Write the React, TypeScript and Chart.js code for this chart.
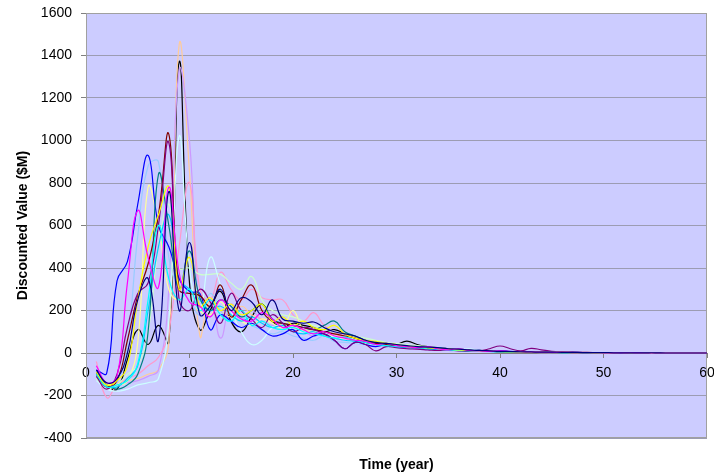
import React, { useEffect, useRef } from "react";
import { Chart, registerables } from "chart.js";

Chart.register(...registerables);

// Time (year) of each data point
const years = [
  1, 2, 3, 4, 5, 6, 7, 8, 9, 10,
  11, 12, 13, 14, 15, 16, 17, 18, 19, 20,
  21, 22, 23, 24, 25, 26, 27, 28, 29, 30,
  31, 32, 33, 34, 35, 36, 37, 38, 39, 40,
  41, 42, 43, 44, 45, 46, 47, 48, 49, 50,
  51, 52, 53, 54, 55, 56, 57, 58, 59, 60,
];

// Axis ranges / tick steps
const xMin = 0;
const xMax = 60;
const xStep = 10;
const yMin = -400;
const yMax = 1600;
const yStep = 200;

const xTitle = "Time (year)";
const yTitle = "Discounted Value ($M)";

const seriesColors = [
  "#000080", "#FF00FF", "#FFFF00", "#00FFFF", "#800080", "#800000",
  "#008080", "#0000FF", "#00CCFF", "#CCFFFF", "#CCFFCC", "#FFFF99",
  "#99CCFF", "#FF99CC", "#CC99FF", "#FFCC99", "#000000",
];

const navy = [
  -80, -140, -120, 0, 250, 350, 60, 760, 200, 520,
  180, 220, 300, 200, 260, 240, 180, 250, 160, 150,
  140, 146, 120, 100, 90, 80, 60, 50, 45, 40,
  35, 30, 28, 25, 20, 18, 15, 12, 10, 8,
  7, 6, 5, 4, 4, 3, 3, 2, 2, 2,
  1, 1, 1, 1, 1, 0, 0, 0, 0, 0,
];
const magenta = [
  -60, -140, -110, 330, 670, 450, 310, 780, 380, 240,
  220, 170, 250, 200, 160, 150, 190, 160, 120, 130,
  110, 90, 100, 80, 70, 60, 55, 40, 45, 35,
  30, 25, 30, 20, 15, 20, 12, 10, 8, 10,
  7, 6, 5, 4, 3, 3, 2, 2, 2, 1,
  1, 1, 1, 0, 0, 0, 0, 0, 0, 0,
];
const yellow = [
  -90, -150, -130, -60, 250, 500, 650, 780, 300, 450,
  220, 260, 200, 230, 180, 200, 230, 150, 170, 130,
  150, 120, 110, 130, 90, 70, 60, 55, 45, 40,
  30, 28, 25, 20, 18, 15, 12, 10, 8, 7,
  6, 5, 4, 4, 3, 3, 2, 2, 1, 1,
  1, 1, 0, 0, 0, 0, 0, 0, 0, 0,
];
const cyan = [
  -100, -160, -150, -130, -50, 250, 600, 350, 250, 300,
  200, 250, 180, 150, 200, 130, 150, 120, 110, 120,
  100, 90, 80, 70, 75, 60, 50, 40, 35, 30,
  28, 25, 20, 18, 15, 12, 10, 8, 7, 6,
  5, 4, 4, 3, 3, 2, 2, 1, 1, 1,
  1, 0, 0, 0, 0, 0, 0, 0, 0, 0,
];
const purple = [
  -110, -170, -100, 120, 280, 330, 600, 990, 250, 200,
  300, 240, 140, 280, 200, 160, 120, 180, 140, 100,
  120, 110, 90, 60, 20, 50, 40, 10, 30, 25,
  20, 18, 15, 12, 15, 10, 8, 10, 20, 33,
  20, 10, 22, 15, 8, 5, 4, 3, 2, 2,
  1, 1, 1, 1, 0, 0, 0, 0, 0, 0,
];
const maroon = [
  -100, -160, -130, 60, 270, 420, 650, 1030, 300, 280,
  270, 220, 320, 170, 250, 320, 200, 150, 140, 130,
  120, 110, 100, 90, 80, 70, 50, 45, 40, 35,
  30, 25, 22, 20, 18, 15, 12, 10, 8, 6,
  5, 4, 3, 3, 2, 2, 1, 1, 1, 1,
  0, 0, 0, 0, 0, 0, 0, 0, 0, 0,
];
const teal = [
  -90, -150, -170, -150, -100, 100, 840, 600, 300, 480,
  260, 200, 250, 220, 170, 200, 230, 160, 140, 130,
  120, 110, 130, 150, 100, 80, 60, 50, 45, 35,
  30, 28, 25, 20, 18, 15, 12, 10, 8, 6,
  5, 4, 4, 3, 3, 2, 2, 1, 1, 1,
  1, 0, 0, 0, 0, 0, 0, 0, 0, 0,
];
const blue = [
  -80, -95, 340, 430, 700, 930, 600, 500, 350, 290,
  280, 110, 180, 150, 120, 140, 110, 80, 90, 110,
  60, 80, 90, 60, 20, 50, 40, 30, 40, 30,
  25, 30, 20, 15, 20, 15, 10, 12, 8, 10,
  8, 6, 5, 5, 4, 3, 3, 2, 2, 2,
  1, 1, 1, 1, 0, 0, 0, 0, 0, 0,
];
const sky = [
  -110, -150, -160, -120, -60, 200, 500, 650, 350, 300,
  250, 200, 220, 180, 150, 170, 140, 120, 130, 100,
  90, 100, 80, 70, 60, 55, 50, 40, 35, 30,
  25, 22, 20, 25, 15, 12, 10, 8, 7, 6,
  5, 4, 3, 3, 2, 2, 1, 1, 1, 1,
  0, 0, 0, 0, 0, 0, 0, 0, 0, 0,
];
const turquoise = [
  -130, -170, -180, -170, -150, -140, -120, 150, 1020, 400,
  200, 450, 320, 200, 100, 40, 60, 120, 130, 110,
  100, 90, 80, 75, 60, 50, 45, 40, 35, 30,
  28, 25, 22, 20, 18, 15, 20, 12, 10, 8,
  6, 5, 4, 4, 3, 3, 2, 2, 1, 1,
  1, 1, 0, 0, 0, 0, 0, 0, 0, 0,
];
const lightGreen = [
  -120, -170, -150, -100, -60, 100, 500, 700, 400, 400,
  370, 370, 370, 330, 300, 360, 250, 200, 180, 170,
  150, 130, 120, 100, 90, 80, 70, 60, 50, 45,
  40, 35, 30, 25, 20, 18, 15, 12, 10, 8,
  7, 6, 5, 4, 3, 3, 2, 2, 1, 1,
  1, 1, 0, 0, 0, 0, 0, 0, 0, 0,
];
const lightYellow = [
  -100, -140, -150, -130, 50, 780, 600, 300, 250, 300,
  200, 180, 240, 170, 150, 130, 160, 140, 120, 200,
  110, 100, 90, 80, 70, 65, 55, 50, 45, 40,
  35, 30, 25, 20, 18, 15, 12, 10, 8, 6,
  5, 4, 3, 3, 2, 2, 1, 1, 1, 1,
  0, 0, 0, 0, 0, 0, 0, 0, 0, 0,
];
const paleBlue = [
  -100, -160, -140, 50, 550, 880, 900, 450, 300, 250,
  180, 280, 200, 150, 170, 130, 110, 90, 100, 80,
  70, 60, 80, 55, 50, 45, 40, 35, 30, 25,
  22, 20, 18, 15, 12, 10, 8, 7, 6, 5,
  4, 4, 3, 3, 2, 2, 1, 1, 1, 1,
  0, 0, 0, 0, 0, 0, 0, 0, 0, 0,
];
const rose = [
  -40, -210, -150, -120, -100, -60, -20, 100, 500, 800,
  300, 250, 380, 300, 250, 300, 260, 250, 250, 180,
  150, 190, 130, 100, 80, 60, 60, 50, 40, 35,
  30, 25, 22, 20, 18, 15, 12, 10, 8, 6,
  5, 4, 3, 3, 2, 2, 1, 1, 1, 1,
  0, 0, 0, 0, 0, 0, 0, 0, 0, 0,
];
const lavender = [
  -110, -170, -150, -140, -130, -110, -80, 300, 1330, 1000,
  200, 250, 70, 230, 160, 200, 150, 130, 120, 110,
  100, 80, 90, 70, 60, 50, 40, 35, 30, 30,
  25, 20, 18, 15, 12, 10, 8, 7, 6, 5,
  4, 3, 3, 2, 2, 1, 1, 1, 1, 0,
  0, 0, 0, 0, 0, 0, 0, 0, 0, 0,
];
const tan = [
  -120, -150, -140, -130, -120, -100, -80, 50, 1450, 850,
  80, 250, 200, 170, 220, 180, 160, 150, 130, 120,
  110, 100, 80, 90, 70, 60, 50, 45, 40, 30,
  25, 20, 20, 15, 15, 12, 10, 10, 8, 8,
  6, 5, 5, 4, 4, 3, 3, 3, 2, 2,
  2, 2, 1, 1, 1, 1, 1, 1, 1, 0,
];
const black = [
  -90, -150, -170, -30, 110, 40, 130, 50, 1370, 330,
  110, 200, 290, 150, 100, 170, 230, 150, 120, 140,
  130, 120, 100, 110, 90, 70, 60, 40, 35, 40,
  56, 40, 30, 25, 20, 18, 15, 12, 10, 8,
  6, 5, 4, 3, 3, 2, 2, 1, 1, 1,
  0, 0, 0, 0, 0, 0, 0, 0, 0, 0,
];

const seriesValues = [
  navy, magenta, yellow, cyan, purple, maroon, teal, blue, sky,
  turquoise, lightGreen, lightYellow, paleBlue, rose, lavender, tan, black,
];

const FONT_FAMILY = '"Liberation Sans", Arial, Helvetica, sans-serif';

export default function App() {
  const ref = useRef<HTMLCanvasElement>(null);

  useEffect(() => {
    const canvas = ref.current;
    if (!canvas) return;

    const decor = {
      id: "decor",
      beforeDraw(chart: any) {
        const { ctx, chartArea: a, width, height } = chart;
        ctx.save();
        ctx.fillStyle = "#ffffff";
        ctx.fillRect(0, 0, width, height);
        ctx.fillStyle = "#CCCCFF";
        ctx.fillRect(a.left, a.top, a.right - a.left, a.bottom - a.top);
        ctx.restore();
      },
      beforeDatasetsDraw(chart: any) {
        const { ctx, chartArea: a } = chart;
        ctx.save();
        ctx.strokeStyle = "#a0a0a0";
        ctx.lineWidth = 1;
        ctx.strokeRect(a.left + 0.5, a.top + 0.5, a.right - a.left - 1, a.bottom - a.top - 1);
        ctx.restore();
      },
      afterDraw(chart: any) {
        const { ctx, chartArea: a } = chart;
        ctx.save();
        ctx.fillStyle = "#000";
        ctx.font = `bold 14px ${FONT_FAMILY}`;
        ctx.textAlign = "center";
        ctx.textBaseline = "middle";
        ctx.fillText(xTitle, (a.left + a.right) / 2, a.bottom + 27);
        ctx.restore();
      },
    };

    const chart = new Chart(canvas, {
      type: "line",
      data: {
        datasets: seriesValues.map((vals, i) => ({
          label: `Series ${i + 1}`,
          data: years.map((t, j) => ({ x: t, y: vals[j] })),
          borderColor: seriesColors[i],
          backgroundColor: seriesColors[i],
          borderWidth: 1.2,
          pointRadius: 0,
          tension: 0.45,
          fill: false,
        })),
      },
      options: {
        responsive: false,
        animation: false,
        layout: { padding: { left: 0, top: 13, right: 7, bottom: 38 } },
        plugins: {
          legend: { display: false },
          tooltip: { enabled: false },
        },
        scales: {
          x: {
            type: "linear",
            min: xMin,
            max: xMax,
            position: { y: 0 } as any,
            ticks: {
              stepSize: xStep,
              color: "#000",
              font: { family: FONT_FAMILY, size: 14 },
              padding: 8,
              maxRotation: 0,
              callback: (v: any) => String(v),
            },
            grid: {
              drawOnChartArea: false,
              drawTicks: true,
              tickLength: 4,
              color: "#808080",
            },
            border: { color: "#808080" },
            afterFit(scale: any) {
              scale.paddingLeft = 0;
              scale.paddingRight = 0;
            },
          },
          y: {
            type: "linear",
            min: yMin,
            max: yMax,
            ticks: {
              stepSize: yStep,
              color: "#000",
              font: { family: FONT_FAMILY, size: 14 },
              padding: 9,
              callback: (v: any) => String(v),
            },
            grid: {
              color: "#9c9cb2",
              tickColor: "#808080",
              tickLength: 5,
            },
            border: { color: "#808080" },
            title: {
              display: true,
              text: yTitle,
              color: "#000",
              font: { family: FONT_FAMILY, size: 14, weight: "bold" },
              padding: { top: 15, bottom: 0 },
            },
            afterFit(scale: any) {
              scale.width = 86;
              scale.paddingTop = 0;
              scale.paddingBottom = 0;
            },
          },
        },
      },
      plugins: [decor],
    });

    return () => chart.destroy();
  }, []);

  return (
    <div style={{ position: "absolute", left: 0, top: 0, width: 714, height: 476 }}>
      <canvas ref={ref} width={714} height={476} />
    </div>
  );
}
